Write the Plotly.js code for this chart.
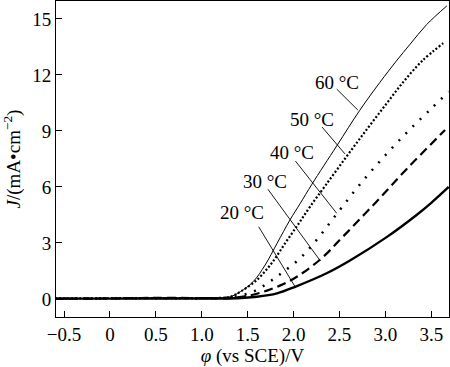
<!DOCTYPE html>
<html>
<head>
<meta charset="utf-8">
<script src="https://cdn.plot.ly/plotly-3.0.1.min.js"></script>
<style>html,body{margin:0;padding:0;background:#fff;}#chart{width:450px;height:367px;}</style>
</head>
<body>
<div id="chart"></div>
<script>
// Data (potential in V vs SCE, current density in mA/cm2)
const x60 = [-0.6, 0.0, 0.5, 1.0, 1.2, 1.31, 1.42, 1.56, 1.69, 1.82, 1.96, 2.07, 2.2, 2.47, 2.72, 2.94, 3.12, 3.27, 3.45, 3.67];
const y60 = [0.02, 0.03, 0.05, 0.04, 0.06, 0.12, 0.39, 0.93, 1.82, 2.98, 4.23, 5.1, 6.15, 8.2, 10.1, 11.6, 12.75, 13.65, 14.7, 15.7];

const x50 = [-0.6, 0.0, 0.5, 1.0, 1.2, 1.31, 1.42, 1.6, 1.76, 1.91, 2.05, 2.18, 2.35, 2.58, 2.8, 3.01, 3.2, 3.4, 3.63];
const y50 = [0.03, 0.04, 0.05, 0.05, 0.06, 0.12, 0.39, 1.02, 1.91, 3.0, 4.0, 4.95, 6.1, 7.65, 9.1, 10.45, 11.65, 12.75, 13.7];

const x40 = [-0.6, 0.0, 0.5, 1.0, 1.2, 1.35, 1.56, 1.74, 1.89, 2.07, 2.25, 2.5, 2.75, 3.0, 3.25, 3.5, 3.69];
const y40 = [0.02, 0.03, 0.04, 0.04, 0.05, 0.12, 0.39, 0.93, 1.46, 2.18, 3.16, 4.75, 6.3, 7.7, 9.0, 10.2, 11.1];

const x30 = [-0.6, 0.0, 0.5, 1.0, 1.3, 1.53, 1.71, 1.89, 2.07, 2.31, 2.54, 2.9, 3.23, 3.65];
const y30 = [0.02, 0.03, 0.06, 0.05, 0.05, 0.2, 0.45, 0.8, 1.3, 2.2, 3.35, 5.2, 6.95, 9.05];

const x20 = [-0.6, 0.0, 0.5, 1.0, 1.3, 1.6, 1.82, 2.03, 2.36, 2.61, 3.01, 3.34, 3.5, 3.69];
const y20 = [0.02, 0.02, 0.03, 0.03, 0.03, 0.12, 0.3, 0.68, 1.38, 2.05, 3.3, 4.5, 5.15, 6.0];

const seriesNames = ["60 °C", "50 °C", "40 °C", "30 °C", "20 °C"];

const xTickVals = [-0.5, 0, 0.5, 1.0, 1.5, 2.0, 2.5, 3.0, 3.5];
const xTickText = ["−0.5", "0", "0.5", "1.0", "1.5", "2.0", "2.5", "3.0", "3.5"];
const yTickVals = [0, 3, 6, 9, 12, 15];
const yTickText = ["0", "3", "6", "9", "12", "15"];

const FONT = "Liberation Serif";

function tr(x, y, name, width, dash) {
  return {x: x, y: y, name: name, type: "scatter", mode: "lines",
    line: {color: "#000", width: width, dash: dash, shape: "spline", smoothing: 1},
    hoverinfo: "skip", showlegend: false};
}

const data = [
  tr(x60, y60, seriesNames[0], 1, "solid"),
  tr(x50, y50, seriesNames[1], 2.2, "2px,2px"),
  tr(x40, y40, seriesNames[2], 2.5, "2px,8px"),
  tr(x30, y30, seriesNames[3], 2.2, "9px,5px"),
  tr(x20, y20, seriesNames[4], 2.4, "solid")
];

// label text centres and leader lines [x0,y0,x1,y1]
const labelPos = [[2.474, 11.62], [2.20, 9.64], [1.98, 7.87], [1.69, 6.32], [1.44, 4.61]];
const leaders = [[2.47, 11.24, 2.70, 10.12], [2.31, 9.21, 2.56, 7.77], [2.02, 7.39, 2.47, 4.59], [1.72, 5.88, 2.29, 2.05], [1.62, 3.87, 2.02, 0.63]];

const annotations = seriesNames.map((n, i) => ({
  x: labelPos[i][0], y: labelPos[i][1], xref: "x", yref: "y", text: n, showarrow: false,
  xanchor: "center", yanchor: "middle", font: {family: FONT, size: 19, color: "#000"}
}));
const shapes = leaders.map(l => ({type: "line", xref: "x", yref: "y", x0: l[0], y0: l[1], x1: l[2], y1: l[3],
  line: {color: "#000", width: 0.9}}));

const layout = {
  width: 450, height: 367,
  margin: {l: 56, r: 1, t: 1, b: 50},
  paper_bgcolor: "#fff", plot_bgcolor: "#fff",
  font: {family: FONT, size: 19, color: "#000"},
  xaxis: {range: [-0.588, 3.693], tickvals: xTickVals, ticktext: xTickText, ticks: "inside", ticklen: 6,
    tickcolor: "#000", tickwidth: 1, showline: true, linecolor: "#000", linewidth: 1, mirror: true,
    showgrid: false, zeroline: false, tickfont: {family: FONT, size: 19},
    title: {text: "<i>φ</i> (vs SCE)/V", font: {family: FONT, size: 19}, standoff: 4}},
  yaxis: {range: [-0.964, 15.96], tickvals: yTickVals, ticktext: yTickText, ticks: "inside", ticklen: 6,
    tickcolor: "#000", tickwidth: 1, showline: true, linecolor: "#000", linewidth: 1, mirror: true,
    showgrid: false, zeroline: false, tickfont: {family: FONT, size: 19},
    title: {text: "<i>J</i>/(mA•cm<sup>−2</sup>)", font: {family: FONT, size: 19}, standoff: 6}},
  annotations: annotations,
  shapes: shapes,
  showlegend: false
};

Plotly.newPlot("chart", data, layout, {staticPlot: true, displayModeBar: false});
</script>
</body>
</html>
